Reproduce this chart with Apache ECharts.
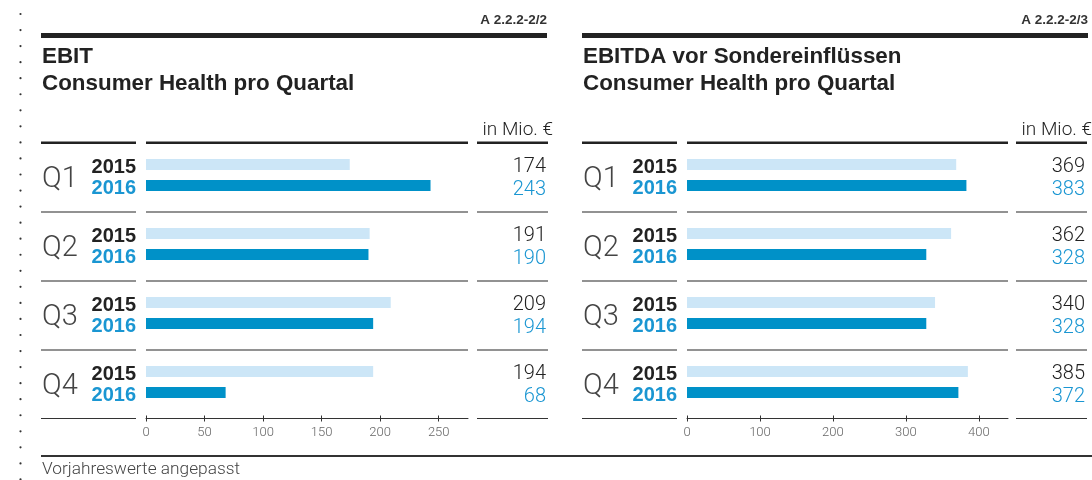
<!DOCTYPE html>
<html>
<head>
<meta charset="utf-8">
<script src="https://cdn.jsdelivr.net/npm/echarts@6/dist/echarts.min.js"></script>
<style>
  html, body { margin: 0; padding: 0; background: #ffffff; }
  #chart { width: 1092px; height: 480px; }
</style>
</head>
<body>
<div id="chart"></div>
<script>
// Quarterly figures, Consumer Health (in Mio. €)
const quarters = ['Q1', 'Q2', 'Q3', 'Q4'];
const years = ['2015', '2016'];
const ebit2015 = [174, 191, 209, 194];
const ebit2016 = [243, 190, 194, 68];
const ebitda2015 = [369, 362, 340, 385];
const ebitda2016 = [383, 328, 328, 372];
const ebitTicks = [0, 50, 100, 150, 200, 250];
const ebitdaTicks = [0, 100, 200, 300, 400];
const codes = ['A 2.2.2-2/2', 'A 2.2.2-2/3'];
const titles = [['EBIT', 'Consumer Health pro Quartal'], ['EBITDA vor Sondereinflüssen', 'Consumer Health pro Quartal']];
const unitLabel = 'in Mio. €';
const footnote = 'Vorjahreswerte angepasst';

const BOLD = "'Liberation Sans', Arial, sans-serif";
const LIGHT = "Roboto, 'Liberation Sans', sans-serif";
const DARK = '#222222';
const BLUE = '#1a96d2';
const BAR_LIGHT = '#cce6f7';
const BAR_DARK = '#0091c8';

// panel geometry
const panels = [
  { v15: ebit2015, v16: ebit2016, ticks: ebitTicks, max: 275, ox: 0, vx: 0, plotW: 322 },
  { v15: ebitda2015, v16: ebitda2016, ticks: ebitdaTicks, max: 440, ox: 541, vx: 539, plotW: 321 }
];
const GRID_TOP = 140.5, BAND = 69;

const grids = [], xAxes = [], yAxes = [], series = [], graphics = [];

function rect(x, y, w, h, fill) {
  graphics.push({ type: 'rect', silent: true, shape: { x, y, width: w, height: h }, style: { fill } });
}
function text(x, y, str, o) {
  graphics.push({
    type: 'text', silent: true, x, y,
    style: Object.assign({ text: str, textVerticalAlign: 'middle', textAlign: 'left' }, o)
  });
}

// dotted margin on the left
for (let k = 0; k < 30; k++) {
  graphics.push({ type: 'circle', silent: true, shape: { cx: 20.5, cy: 14 + k * 16.05, r: 1.1 }, style: { fill: '#333' } });
}

panels.forEach((p, i) => {
  const ox = p.ox, vx = p.vx;
  const left = 146 + ox;
  grids.push({ left, top: GRID_TOP, width: p.plotW, height: BAND * 4 });

  // value axis with outward ticks and labels
  xAxes.push({
    type: 'value', gridIndex: i, min: 0, max: p.max, position: 'bottom', offset: 2,
    splitLine: { show: false },
    axisLine: { show: true, lineStyle: { color: '#333', width: 1 } },
    axisTick: { show: true, length: 3, customValues: p.ticks, lineStyle: { color: '#333' } },
    axisLabel: { customValues: p.ticks, color: '#666', fontSize: 13, fontFamily: LIGHT, fontWeight: 300, margin: 8 }
  });
  // inward ticks on the same baseline
  xAxes.push({
    type: 'value', gridIndex: i, min: 0, max: p.max, position: 'bottom', offset: 2,
    splitLine: { show: false },
    axisLine: { show: false },
    axisTick: { show: true, inside: true, length: 3, customValues: p.ticks, lineStyle: { color: '#333' } },
    axisLabel: { show: false }
  });

  const catBase = {
    type: 'category', gridIndex: i, data: quarters, inverse: true,
    axisLine: { show: false, onZero: false }, axisTick: { show: false }, splitLine: { show: false }
  };
  // year labels
  yAxes.push(Object.assign({}, catBase, {
    position: 'left',
    axisLabel: {
      margin: 10, align: 'right', padding: [5, 0, 0, 0],
      formatter: () => `{a|${years[0]}}\n{b|${years[1]}}`,
      rich: {
        a: { color: DARK, fontSize: 20, fontWeight: 'bold', fontFamily: BOLD, lineHeight: 21, align: 'right' },
        b: { color: BLUE, fontSize: 20, fontWeight: 'bold', fontFamily: BOLD, lineHeight: 21, align: 'right' }
      }
    }
  }));
  // quarter labels
  yAxes.push(Object.assign({}, catBase, {
    position: 'left',
    axisLabel: {
      margin: 104, align: 'left',
      formatter: (v) => `{q|${v}}`,
      rich: {
        q: { color: '#444', fontSize: 29, fontWeight: 300, fontFamily: LIGHT, lineHeight: 30, padding: [10, 0, 0, 0] }
      }
    }
  }));
  // value labels on the right
  yAxes.push(Object.assign({}, catBase, {
    position: 'right',
    axisLabel: {
      margin: 546 + vx - (left + p.plotW), align: 'right', padding: [7, 0, 0, 0],
      formatter: (v, idx) => `{a|${p.v15[idx]}}\n{b|${p.v16[idx]}}`,
      rich: {
        a: { color: DARK, fontSize: 20, fontWeight: 300, fontFamily: LIGHT, lineHeight: 23, align: 'right' },
        b: { color: BLUE, fontSize: 20, fontWeight: 300, fontFamily: LIGHT, lineHeight: 23, align: 'right' }
      }
    }
  }));

  series.push({
    type: 'bar', name: years[0], xAxisIndex: 2 * i, yAxisIndex: 3 * i,
    data: p.v15, barWidth: 11, barGap: '91%',
    itemStyle: { color: BAR_LIGHT }, silent: true
  });
  series.push({
    type: 'bar', name: years[1], xAxisIndex: 2 * i, yAxisIndex: 3 * i,
    data: p.v16, barWidth: 11, barGap: '91%',
    itemStyle: { color: BAR_DARK }, silent: true
  });

  // heading block
  const right = 547 + ox;
  text(right, 20, codes[i], { textAlign: 'right', fill: '#333', fontSize: 13.5, fontWeight: 'bold', fontFamily: BOLD });
  rect(41 + ox, 33, right - (41 + ox), 5, DARK);
  text(42 + ox, 57, titles[i][0], { fill: DARK, fontSize: 22.4, fontWeight: 'bold', fontFamily: BOLD });
  text(42 + ox, 84, titles[i][1], { fill: DARK, fontSize: 22.4, fontWeight: 'bold', fontFamily: BOLD });
  text(553 + vx, 130, unitLabel, { textAlign: 'right', fill: DARK, fontSize: 19, fontWeight: 300, fontFamily: LIGHT });

  // column rules: header, row separators, axis row
  const cols = [[41 + ox, 136 + ox], [left, left + p.plotW], [477 + vx, 548 + vx]];
  cols.forEach(c => rect(c[0], 141.5, c[1] - c[0], 2.6, DARK));
  [212, 281, 350].forEach(y => cols.forEach(c => rect(c[0], y - 0.75, c[1] - c[0], 1.5, '#6e6e6e')));
  [cols[0], cols[2]].forEach(c => rect(c[0], 418, c[1] - c[0], 1, '#333'));
});

// footnote
rect(41, 455, 1051, 2, '#333');
text(42, 470, footnote, { fill: '#444', fontSize: 17.3, fontWeight: 300, fontFamily: LIGHT });

const chart = echarts.init(document.getElementById('chart'), null, { renderer: 'canvas' });
chart.setOption({
  animation: false,
  backgroundColor: '#ffffff',
  grid: grids,
  xAxis: xAxes,
  yAxis: yAxes,
  series,
  graphic: { elements: graphics }
});
</script>
</body>
</html>
